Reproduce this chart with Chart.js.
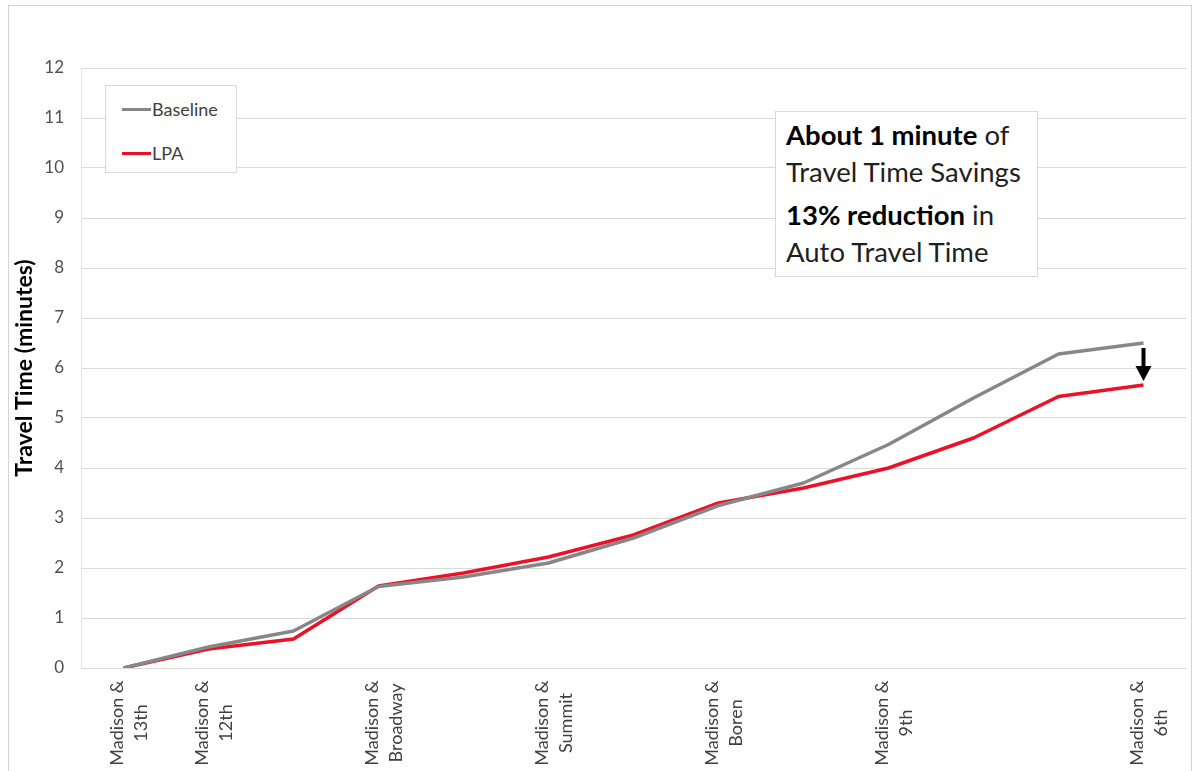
<!DOCTYPE html>
<html>
<head>
<meta charset="utf-8">
<title>Auto Travel Time along Madison</title>
<script src="https://cdn.jsdelivr.net/npm/chart.js@4.4.1/dist/chart.umd.min.js"></script>
<style>
  html, body { margin: 0; padding: 0; background: #fff; }
  #wrap { position: relative; width: 1196px; height: 771px; overflow: hidden; background: #fff; }
  #frame { position: absolute; left: 8px; top: 5px; width: 1184px; height: 800px; border: 1px solid #d4d4d4; box-sizing: border-box; }
  #chart { position: absolute; left: 0; top: 0; }
  #legend { position: absolute; left: 105px; top: 85px; width: 132px; height: 88px; box-sizing: border-box;
            border: 1px solid #d9d9d9; background: #fff; font-family: Lato, sans-serif; font-size: 18px; color: #404040; }
  #legend .item { position: absolute; left: 16px; height: 20px; display: flex; align-items: center; }
  #legend .swatch { width: 29px; height: 3px; margin-right: 1px; }
  #note { position: absolute; left: 775px; top: 111px; width: 263px; height: 166px; box-sizing: border-box;
          border: 1px solid #d9d9d9; background: #fff; padding: 4px 0 0 10px;
          font-family: Lato, sans-serif; font-size: 27.5px; line-height: 37px; color: #1f1f1f; white-space: nowrap; }
  #note p { margin: 0 0 6px 0; }
  #note b { color: #000; }
</style>
</head>
<body>
<div id="wrap">
  <div id="frame"></div>
  <canvas id="chart" width="1196" height="771"></canvas>
  <div id="legend"></div>
  <div id="note">
    <p><b>About 1 minute</b> of<br>Travel Time Savings</p>
    <p><b>13% reduction</b> in<br>Auto Travel Time</p>
  </div>
</div>
<script>
// Stops along the corridor (unlabelled entries are intermediate segments)
const stops = [
  ['Madison &', '13th'], ['Madison &', '12th'], '', ['Madison &', 'Broadway'], '',
  ['Madison &', 'Summit'], '', ['Madison &', 'Boren'], '', ['Madison &', '9th'],
  '', '', ['Madison &', '6th']
];

// Cumulative travel time in minutes
const baselineMinutes = [0, 0.42, 0.74, 1.63, 1.82, 2.1, 2.6, 3.25, 3.7, 4.47, 5.4, 6.28, 6.5];
const lpaMinutes      = [0, 0.38, 0.58, 1.64, 1.9, 2.22, 2.66, 3.3, 3.6, 4.0, 4.6, 5.43, 5.66];

const yTicks = [0, 1, 2, 3, 4, 5, 6, 7, 8, 9, 10, 11, 12];

const seriesNames = ['Baseline', 'LPA'];
const seriesColors = ['#878787', '#ec1126'];

// Rotated two-line stop labels under the plot
const stopLabels = {
  id: 'stopLabels',
  afterDraw(chart) {
    const ctx = chart.ctx;
    const x = chart.scales.x;
    ctx.save();
    ctx.font = '18px Lato, sans-serif';
    ctx.fillStyle = '#404040';
    ctx.textAlign = 'center';
    ctx.textBaseline = 'alphabetic';
    stops.forEach((lab, i) => {
      if (!Array.isArray(lab)) return;
      const px = x.getPixelForValue(i);
      ctx.save();
      ctx.translate(px, 723);
      ctx.rotate(-Math.PI / 2);
      lab.forEach((line, k) => ctx.fillText(line, 0, -1 + k * 24));
      ctx.restore();
    });
    ctx.restore();
  }
};

// Down arrow marking the saving at the last stop
const savingArrow = {
  id: 'savingArrow',
  afterDatasetsDraw(chart) {
    const ctx = chart.ctx;
    const last = stops.length - 1;
    const px = chart.scales.x.getPixelForValue(last);
    const yTop = chart.scales.y.getPixelForValue(baselineMinutes[last]) + 5;
    const yTip = chart.scales.y.getPixelForValue(lpaMinutes[last]) - 4;
    const headH = 15, headW = 8;
    ctx.save();
    ctx.fillStyle = '#000';
    ctx.fillRect(px - 2, yTop, 4, yTip - yTop - headH + 1);
    ctx.beginPath();
    ctx.moveTo(px - headW, yTip - headH);
    ctx.lineTo(px + headW, yTip - headH);
    ctx.lineTo(px, yTip);
    ctx.closePath();
    ctx.fill();
    ctx.restore();
  }
};

const chart = new Chart(document.getElementById('chart'), {
  type: 'line',
  data: {
    labels: stops,
    datasets: [
      { label: seriesNames[0], data: baselineMinutes, borderColor: seriesColors[0], borderWidth: 3.5,
        pointRadius: 0, tension: 0, fill: false, borderJoinStyle: 'round' },
      { label: seriesNames[1], data: lpaMinutes, borderColor: seriesColors[1], borderWidth: 3.5,
        pointRadius: 0, tension: 0, fill: false, borderJoinStyle: 'round' }
    ]
  },
  options: {
    responsive: false,
    animation: false,
    layout: { padding: { left: 8, right: 10, top: 68, bottom: 0 } },
    plugins: { legend: { display: false }, tooltip: { enabled: false } },
    scales: {
      x: {
        offset: true,
        grid: { display: false },
        border: { display: false },
        ticks: { display: false },
        afterFit(s) { s.height = 103; }
      },
      y: {
        min: 0, max: 12,
        afterBuildTicks(s) { s.ticks = yTicks.map(v => ({ value: v })); },
        afterFit(s) { s.width = 73; },
        grid: { color: '#d9d9d9', lineWidth: 1, drawTicks: false },
        border: { display: true, color: '#e3e3e3' },
        ticks: { padding: 17, color: '#505050', font: { family: 'Lato', size: 17 } },
        title: { display: true, text: 'Travel Time (minutes)', color: '#000',
                 font: { family: 'Lato', size: 23, weight: 'bold' }, padding: { top: 3, bottom: 0 } }
      }
    }
  },
  plugins: [stopLabels, savingArrow]
});

// Legend box built from the datasets
const legend = document.getElementById('legend');
chart.data.datasets.forEach((ds, i) => {
  const item = document.createElement('div');
  item.className = 'item';
  item.style.top = (13 + i * 44) + 'px';
  const sw = document.createElement('span');
  sw.className = 'swatch';
  sw.style.background = ds.borderColor;
  const tx = document.createElement('span');
  tx.textContent = ds.label;
  item.appendChild(sw);
  item.appendChild(tx);
  legend.appendChild(item);
});
</script>
</body>
</html>
